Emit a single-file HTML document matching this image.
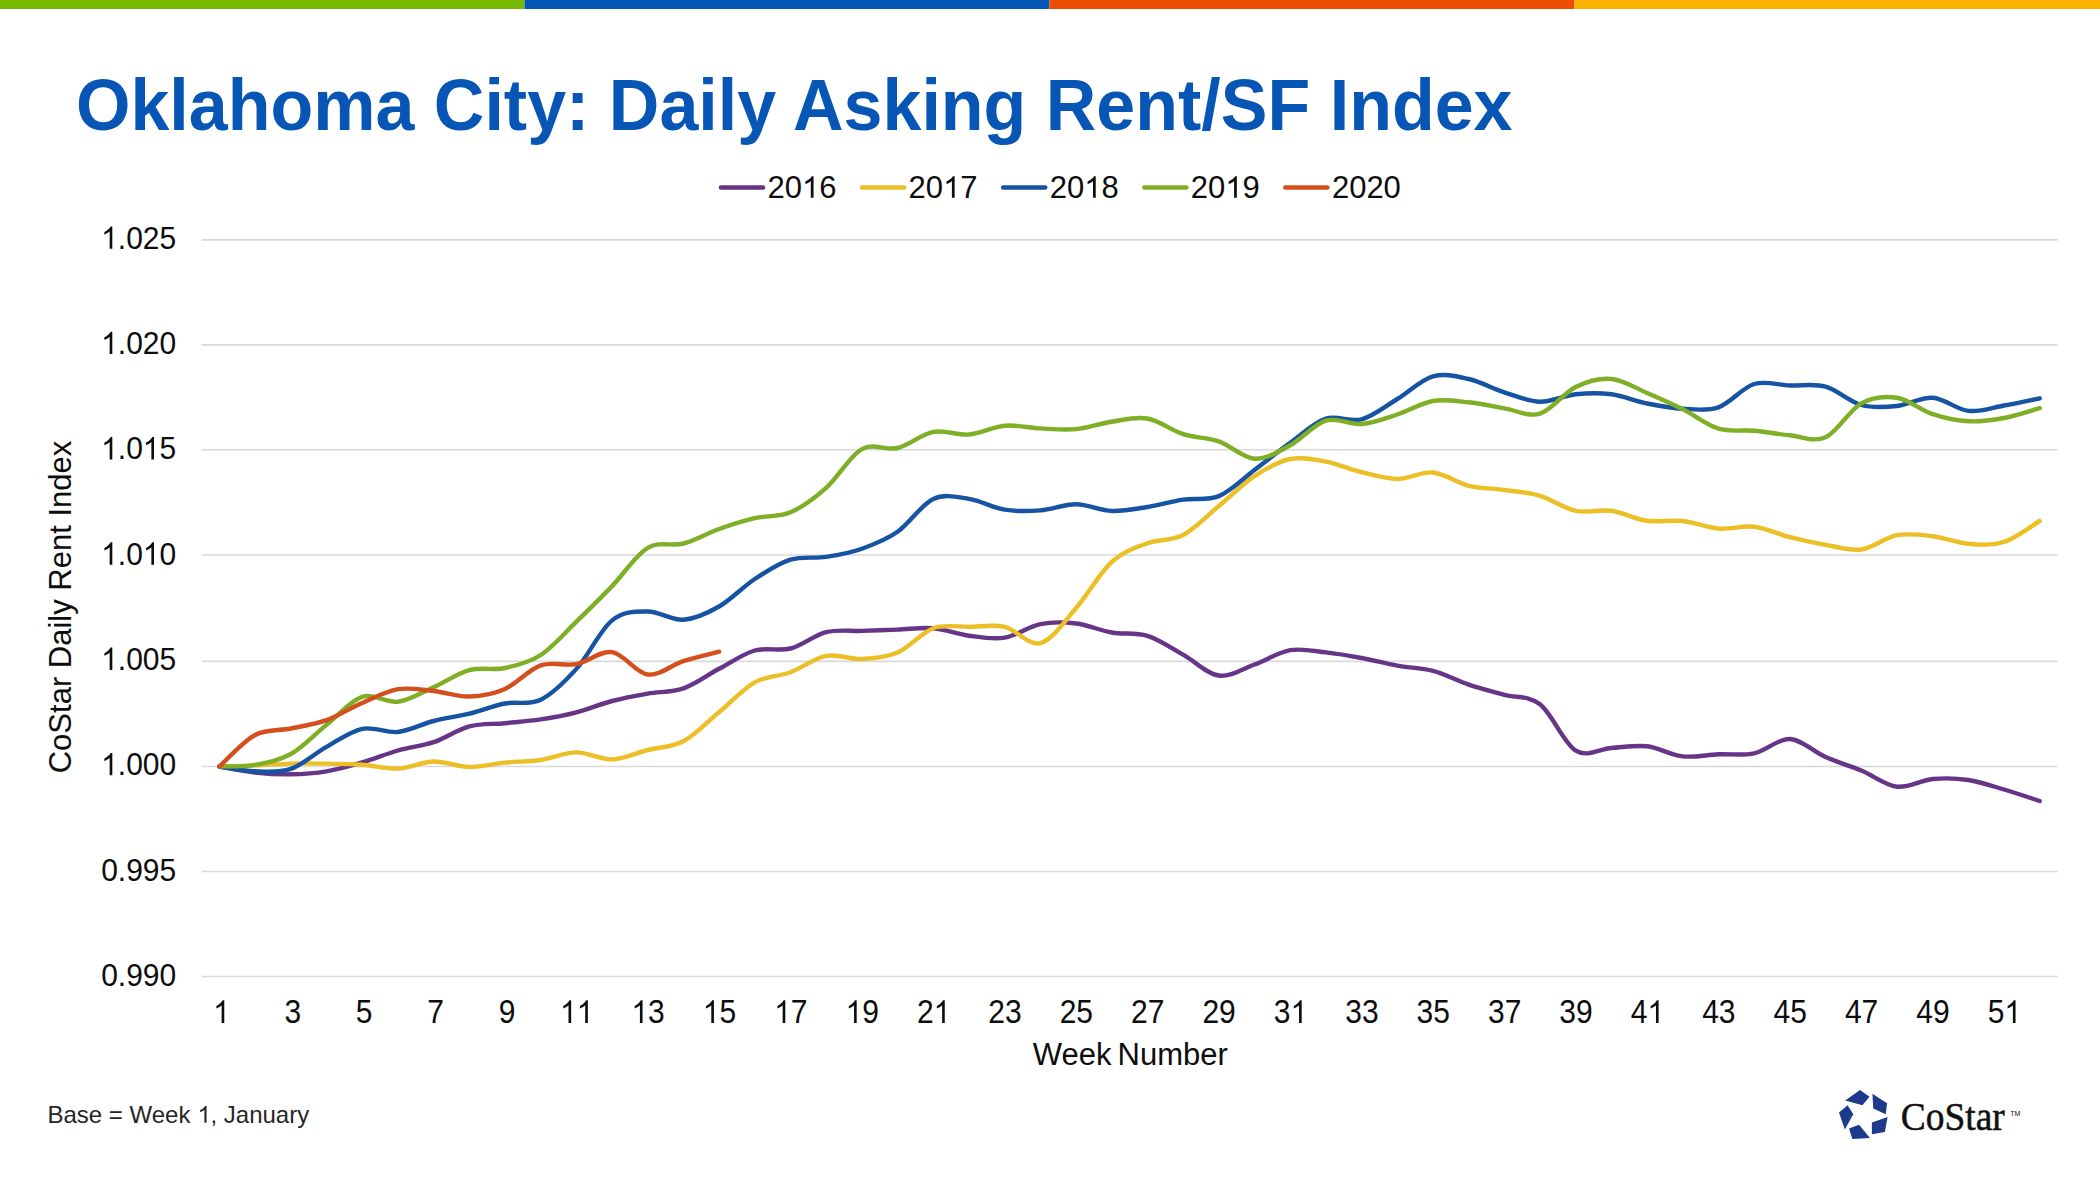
<!DOCTYPE html>
<html><head><meta charset="utf-8"><title>Oklahoma City: Daily Asking Rent/SF Index</title>
<style>
html,body{margin:0;padding:0;background:#fff;}
body{width:2100px;height:1181px;overflow:hidden;position:relative;}
svg{position:absolute;left:0;top:0;display:block;}
text{font-family:"Liberation Sans",sans-serif;}
.ax{font-size:30px;}
.lg{font-size:31px;}
.at{font-size:31px;}
.ti{font-size:70px;font-weight:bold;fill:#0756b5;}
.ft{font-size:24px;}
.lo{font-family:"Liberation Serif",serif;font-size:38px;fill:#111;stroke:#111;stroke-width:0.5px;}
.tm{font-size:7px;fill:#111;}
</style></head>
<body>
<svg width="2100" height="1181" viewBox="0 0 2100 1181">
<rect x="0" y="0" width="524.5" height="9" fill="#76b900"/>
<rect x="524.5" y="0" width="525" height="9" fill="#0657b5"/>
<rect x="1049.5" y="0" width="525" height="9" fill="#ef4e02"/>
<rect x="1574.5" y="0" width="526" height="9" fill="#fdb302"/>
<line x1="201.6" y1="239.9" x2="2057.6" y2="239.9" stroke="#d9d9d9" stroke-width="1.6"/>
<line x1="201.6" y1="344.9" x2="2057.6" y2="344.9" stroke="#d9d9d9" stroke-width="1.6"/>
<line x1="201.6" y1="449.8" x2="2057.6" y2="449.8" stroke="#d9d9d9" stroke-width="1.6"/>
<line x1="201.6" y1="555.0" x2="2057.6" y2="555.0" stroke="#d9d9d9" stroke-width="1.6"/>
<line x1="201.6" y1="661.4" x2="2057.6" y2="661.4" stroke="#d9d9d9" stroke-width="1.6"/>
<line x1="201.6" y1="766.5" x2="2057.6" y2="766.5" stroke="#d9d9d9" stroke-width="1.6"/>
<line x1="201.6" y1="871.5" x2="2057.6" y2="871.5" stroke="#d9d9d9" stroke-width="1.6"/>
<line x1="201.6" y1="976.5" x2="2057.6" y2="976.5" stroke="#d9d9d9" stroke-width="1.6"/>
<text transform="translate(101.13 248.80) scale(1 1.070)" class="ax" fill="#0d0d0d"> .025</text>
<path transform="translate(101.13 248.80) scale(0.01465 -0.01567)" d="M763 0H583V1115Q518 1055 430 1001Q330 941 223 904V1073Q376 1143 487 1240Q600 1338 647 1430H763Z" fill="#0d0d0d"/>
<text transform="translate(101.13 354.10) scale(1 1.070)" class="ax" fill="#0d0d0d"> .020</text>
<path transform="translate(101.13 354.10) scale(0.01465 -0.01567)" d="M763 0H583V1115Q518 1055 430 1001Q330 941 223 904V1073Q376 1143 487 1240Q600 1338 647 1430H763Z" fill="#0d0d0d"/>
<text transform="translate(101.13 459.40) scale(1 1.070)" class="ax" fill="#0d0d0d"> .0 5</text>
<path transform="translate(101.13 459.40) scale(0.01465 -0.01567)" d="M763 0H583V1115Q518 1055 430 1001Q330 941 223 904V1073Q376 1143 487 1240Q600 1338 647 1430H763Z" fill="#0d0d0d"/>
<path transform="translate(142.83 459.40) scale(0.01465 -0.01567)" d="M763 0H583V1115Q518 1055 430 1001Q330 941 223 904V1073Q376 1143 487 1240Q600 1338 647 1430H763Z" fill="#0d0d0d"/>
<text transform="translate(101.13 564.70) scale(1 1.070)" class="ax" fill="#0d0d0d"> .0 0</text>
<path transform="translate(101.13 564.70) scale(0.01465 -0.01567)" d="M763 0H583V1115Q518 1055 430 1001Q330 941 223 904V1073Q376 1143 487 1240Q600 1338 647 1430H763Z" fill="#0d0d0d"/>
<path transform="translate(142.83 564.70) scale(0.01465 -0.01567)" d="M763 0H583V1115Q518 1055 430 1001Q330 941 223 904V1073Q376 1143 487 1240Q600 1338 647 1430H763Z" fill="#0d0d0d"/>
<text transform="translate(101.13 670.00) scale(1 1.070)" class="ax" fill="#0d0d0d"> .005</text>
<path transform="translate(101.13 670.00) scale(0.01465 -0.01567)" d="M763 0H583V1115Q518 1055 430 1001Q330 941 223 904V1073Q376 1143 487 1240Q600 1338 647 1430H763Z" fill="#0d0d0d"/>
<text transform="translate(101.13 775.30) scale(1 1.070)" class="ax" fill="#0d0d0d"> .000</text>
<path transform="translate(101.13 775.30) scale(0.01465 -0.01567)" d="M763 0H583V1115Q518 1055 430 1001Q330 941 223 904V1073Q376 1143 487 1240Q600 1338 647 1430H763Z" fill="#0d0d0d"/>
<text transform="translate(101.13 880.60) scale(1 1.070)" class="ax" fill="#0d0d0d">0.995</text>
<text transform="translate(101.13 985.90) scale(1 1.070)" class="ax" fill="#0d0d0d">0.990</text>
<text transform="translate(213.10 1022.90) scale(1 1.080)" class="ax" fill="#0d0d0d"> </text>
<path transform="translate(213.10 1022.90) scale(0.01465 -0.01582)" d="M763 0H583V1115Q518 1055 430 1001Q330 941 223 904V1073Q376 1143 487 1240Q600 1338 647 1430H763Z" fill="#0d0d0d"/>
<text transform="translate(284.49 1022.90) scale(1 1.080)" class="ax" fill="#0d0d0d">3</text>
<text transform="translate(355.87 1022.90) scale(1 1.080)" class="ax" fill="#0d0d0d">5</text>
<text transform="translate(427.26 1022.90) scale(1 1.080)" class="ax" fill="#0d0d0d">7</text>
<text transform="translate(498.64 1022.90) scale(1 1.080)" class="ax" fill="#0d0d0d">9</text>
<text transform="translate(559.98 1022.90) scale(1 1.080)" class="ax" fill="#0d0d0d">  </text>
<path transform="translate(559.98 1022.90) scale(0.01465 -0.01582)" d="M763 0H583V1115Q518 1055 430 1001Q330 941 223 904V1073Q376 1143 487 1240Q600 1338 647 1430H763Z" fill="#0d0d0d"/>
<path transform="translate(576.67 1022.90) scale(0.01465 -0.01582)" d="M763 0H583V1115Q518 1055 430 1001Q330 941 223 904V1073Q376 1143 487 1240Q600 1338 647 1430H763Z" fill="#0d0d0d"/>
<text transform="translate(631.37 1022.90) scale(1 1.080)" class="ax" fill="#0d0d0d"> 3</text>
<path transform="translate(631.37 1022.90) scale(0.01465 -0.01582)" d="M763 0H583V1115Q518 1055 430 1001Q330 941 223 904V1073Q376 1143 487 1240Q600 1338 647 1430H763Z" fill="#0d0d0d"/>
<text transform="translate(702.75 1022.90) scale(1 1.080)" class="ax" fill="#0d0d0d"> 5</text>
<path transform="translate(702.75 1022.90) scale(0.01465 -0.01582)" d="M763 0H583V1115Q518 1055 430 1001Q330 941 223 904V1073Q376 1143 487 1240Q600 1338 647 1430H763Z" fill="#0d0d0d"/>
<text transform="translate(774.13 1022.90) scale(1 1.080)" class="ax" fill="#0d0d0d"> 7</text>
<path transform="translate(774.13 1022.90) scale(0.01465 -0.01582)" d="M763 0H583V1115Q518 1055 430 1001Q330 941 223 904V1073Q376 1143 487 1240Q600 1338 647 1430H763Z" fill="#0d0d0d"/>
<text transform="translate(845.52 1022.90) scale(1 1.080)" class="ax" fill="#0d0d0d"> 9</text>
<path transform="translate(845.52 1022.90) scale(0.01465 -0.01582)" d="M763 0H583V1115Q518 1055 430 1001Q330 941 223 904V1073Q376 1143 487 1240Q600 1338 647 1430H763Z" fill="#0d0d0d"/>
<text transform="translate(916.90 1022.90) scale(1 1.080)" class="ax" fill="#0d0d0d">2 </text>
<path transform="translate(933.59 1022.90) scale(0.01465 -0.01582)" d="M763 0H583V1115Q518 1055 430 1001Q330 941 223 904V1073Q376 1143 487 1240Q600 1338 647 1430H763Z" fill="#0d0d0d"/>
<text transform="translate(988.29 1022.90) scale(1 1.080)" class="ax" fill="#0d0d0d">23</text>
<text transform="translate(1059.67 1022.90) scale(1 1.080)" class="ax" fill="#0d0d0d">25</text>
<text transform="translate(1131.05 1022.90) scale(1 1.080)" class="ax" fill="#0d0d0d">27</text>
<text transform="translate(1202.44 1022.90) scale(1 1.080)" class="ax" fill="#0d0d0d">29</text>
<text transform="translate(1273.82 1022.90) scale(1 1.080)" class="ax" fill="#0d0d0d">3 </text>
<path transform="translate(1290.51 1022.90) scale(0.01465 -0.01582)" d="M763 0H583V1115Q518 1055 430 1001Q330 941 223 904V1073Q376 1143 487 1240Q600 1338 647 1430H763Z" fill="#0d0d0d"/>
<text transform="translate(1345.21 1022.90) scale(1 1.080)" class="ax" fill="#0d0d0d">33</text>
<text transform="translate(1416.59 1022.90) scale(1 1.080)" class="ax" fill="#0d0d0d">35</text>
<text transform="translate(1487.97 1022.90) scale(1 1.080)" class="ax" fill="#0d0d0d">37</text>
<text transform="translate(1559.36 1022.90) scale(1 1.080)" class="ax" fill="#0d0d0d">39</text>
<text transform="translate(1630.74 1022.90) scale(1 1.080)" class="ax" fill="#0d0d0d">4 </text>
<path transform="translate(1647.43 1022.90) scale(0.01465 -0.01582)" d="M763 0H583V1115Q518 1055 430 1001Q330 941 223 904V1073Q376 1143 487 1240Q600 1338 647 1430H763Z" fill="#0d0d0d"/>
<text transform="translate(1702.13 1022.90) scale(1 1.080)" class="ax" fill="#0d0d0d">43</text>
<text transform="translate(1773.51 1022.90) scale(1 1.080)" class="ax" fill="#0d0d0d">45</text>
<text transform="translate(1844.89 1022.90) scale(1 1.080)" class="ax" fill="#0d0d0d">47</text>
<text transform="translate(1916.28 1022.90) scale(1 1.080)" class="ax" fill="#0d0d0d">49</text>
<text transform="translate(1987.66 1022.90) scale(1 1.080)" class="ax" fill="#0d0d0d">5 </text>
<path transform="translate(2004.35 1022.90) scale(0.01465 -0.01582)" d="M763 0H583V1115Q518 1055 430 1001Q330 941 223 904V1073Q376 1143 487 1240Q600 1338 647 1430H763Z" fill="#0d0d0d"/>
<path d="M219.4 766.5 C225.4 767.5 243.2 771.2 255.1 772.5 C267.0 773.8 278.9 774.5 290.8 774.3 C302.7 774.1 314.6 773.3 326.5 771.3 C338.4 769.3 350.3 765.9 362.2 762.4 C374.1 758.9 386.0 753.9 397.9 750.5 C409.8 747.1 421.7 746.2 433.6 742.2 C445.5 738.2 457.4 729.6 469.3 726.4 C481.2 723.2 493.1 724.4 505.0 723.2 C516.9 722.0 528.8 721.2 540.7 719.4 C552.6 717.6 564.5 715.5 576.4 712.4 C588.3 709.3 600.2 704.1 612.1 701.0 C624.0 697.9 635.9 695.7 647.8 693.6 C659.6 691.5 671.5 692.5 683.4 688.4 C695.3 684.3 707.2 675.1 719.1 668.8 C731.0 662.5 742.9 653.9 754.8 650.5 C766.7 647.1 778.6 651.5 790.5 648.5 C802.4 645.5 814.3 635.1 826.2 632.2 C838.1 629.3 850.0 631.3 861.9 630.9 C873.8 630.5 885.7 630.0 897.6 629.6 C909.5 629.2 921.4 627.2 933.3 628.2 C945.2 629.2 957.1 634.1 969.0 635.7 C980.9 637.3 992.8 639.6 1004.7 637.7 C1016.6 635.8 1028.5 626.5 1040.4 624.1 C1052.3 621.7 1064.2 622.1 1076.1 623.5 C1088.0 624.9 1099.8 630.4 1111.7 632.5 C1123.6 634.6 1135.5 632.2 1147.4 635.9 C1159.3 639.6 1171.2 648.0 1183.1 654.6 C1195.0 661.2 1206.9 673.9 1218.8 675.5 C1230.7 677.1 1242.6 668.7 1254.5 664.5 C1266.4 660.3 1278.3 652.2 1290.2 650.2 C1302.1 648.2 1314.0 651.1 1325.9 652.4 C1337.8 653.7 1349.7 655.8 1361.6 658.0 C1373.5 660.2 1385.4 663.6 1397.3 665.7 C1409.2 667.9 1421.1 667.8 1433.0 670.9 C1444.9 674.0 1456.8 680.6 1468.7 684.6 C1480.6 688.6 1492.5 691.6 1504.4 694.9 C1516.3 698.2 1528.2 695.0 1540.0 704.3 C1551.9 713.6 1563.8 743.3 1575.7 750.6 C1587.6 757.9 1599.5 748.7 1611.4 748.0 C1623.3 747.3 1635.2 744.9 1647.1 746.3 C1659.0 747.7 1670.9 755.1 1682.8 756.4 C1694.7 757.7 1706.6 754.8 1718.5 754.3 C1730.4 753.8 1742.3 755.8 1754.2 753.3 C1766.1 750.8 1778.0 738.4 1789.9 739.0 C1801.8 739.6 1813.7 751.9 1825.6 757.1 C1837.5 762.4 1849.4 765.6 1861.3 770.5 C1873.2 775.4 1885.1 785.3 1897.0 786.7 C1908.9 788.1 1920.8 780.1 1932.7 779.0 C1944.6 777.9 1956.5 778.2 1968.4 780.0 C1980.3 781.8 1992.1 786.0 2004.0 789.5 C2015.9 793.0 2033.8 799.1 2039.7 801.0" fill="none" stroke="#663587" stroke-width="4.4" stroke-linecap="round" stroke-linejoin="round"/>
<path d="M219.4 766.5 C225.4 766.3 243.2 765.9 255.1 765.4 C267.0 764.9 278.9 763.9 290.8 763.6 C302.7 763.3 314.6 763.4 326.5 763.6 C338.4 763.8 350.3 764.0 362.2 764.8 C374.1 765.6 386.0 769.1 397.9 768.6 C409.8 768.1 421.7 761.8 433.6 761.5 C445.5 761.2 457.4 766.8 469.3 767.0 C481.2 767.2 493.1 763.8 505.0 762.6 C516.9 761.4 528.8 761.7 540.7 760.0 C552.6 758.3 564.5 752.5 576.4 752.4 C588.3 752.3 600.2 759.8 612.1 759.4 C624.0 759.0 635.9 753.0 647.8 750.0 C659.6 747.0 671.5 747.6 683.4 741.3 C695.3 735.0 707.2 721.9 719.1 712.1 C731.0 702.3 742.9 688.9 754.8 682.3 C766.7 675.6 778.6 676.6 790.5 672.2 C802.4 667.8 814.3 658.1 826.2 655.9 C838.1 653.7 850.0 659.5 861.9 659.0 C873.8 658.5 885.7 657.7 897.6 652.6 C909.5 647.5 921.4 632.5 933.3 628.2 C945.2 623.9 957.1 627.1 969.0 626.9 C980.9 626.7 992.8 624.2 1004.7 626.9 C1016.6 629.6 1028.5 646.2 1040.4 643.1 C1052.3 640.0 1064.2 621.5 1076.1 608.0 C1088.0 594.5 1099.8 572.8 1111.7 562.0 C1123.6 551.2 1135.5 547.7 1147.4 543.2 C1159.3 538.7 1171.2 541.2 1183.1 535.0 C1195.0 528.8 1206.9 515.8 1218.8 506.0 C1230.7 496.2 1242.6 484.0 1254.5 476.2 C1266.4 468.4 1278.3 461.4 1290.2 459.0 C1302.1 456.6 1314.0 459.4 1325.9 461.6 C1337.8 463.8 1349.7 469.3 1361.6 472.2 C1373.5 475.1 1385.4 478.9 1397.3 479.0 C1409.2 479.1 1421.1 471.4 1433.0 472.5 C1444.9 473.6 1456.8 482.9 1468.7 485.8 C1480.6 488.7 1492.5 488.3 1504.4 490.0 C1516.3 491.7 1528.2 492.3 1540.0 495.8 C1551.9 499.3 1563.8 508.3 1575.7 510.8 C1587.6 513.3 1599.5 509.1 1611.4 510.8 C1623.3 512.5 1635.2 519.1 1647.1 520.8 C1659.0 522.5 1670.9 519.7 1682.8 521.0 C1694.7 522.3 1706.6 527.6 1718.5 528.6 C1730.4 529.6 1742.3 525.3 1754.2 526.7 C1766.1 528.1 1778.0 534.1 1789.9 537.1 C1801.8 540.1 1813.7 542.7 1825.6 544.8 C1837.5 546.9 1849.4 551.1 1861.3 549.5 C1873.2 547.9 1885.1 537.4 1897.0 535.2 C1908.9 533.0 1920.8 534.8 1932.7 536.2 C1944.6 537.6 1956.5 542.8 1968.4 543.8 C1980.3 544.8 1992.1 545.7 2004.0 541.9 C2015.9 538.1 2033.8 524.5 2039.7 521.0" fill="none" stroke="#ebbf25" stroke-width="4.4" stroke-linecap="round" stroke-linejoin="round"/>
<path d="M219.4 766.5 C225.4 767.3 243.2 770.9 255.1 771.3 C267.0 771.7 278.9 773.0 290.8 768.9 C302.7 764.8 314.6 753.6 326.5 746.9 C338.4 740.2 350.3 731.3 362.2 728.8 C374.1 726.3 386.0 733.3 397.9 732.0 C409.8 730.7 421.7 724.0 433.6 721.0 C445.5 718.0 457.4 716.6 469.3 713.7 C481.2 710.8 493.1 705.8 505.0 703.5 C516.9 701.2 528.8 705.5 540.7 699.7 C552.6 693.9 564.5 682.1 576.4 668.9 C588.3 655.7 600.2 630.0 612.1 620.4 C624.0 610.8 635.9 611.6 647.8 611.5 C659.6 611.4 671.5 620.5 683.4 619.7 C695.3 618.9 707.2 613.3 719.1 606.5 C731.0 599.7 742.9 586.8 754.8 579.0 C766.7 571.2 778.6 563.4 790.5 559.7 C802.4 556.0 814.3 558.7 826.2 556.9 C838.1 555.1 850.0 552.9 861.9 548.7 C873.8 544.5 885.7 540.1 897.6 531.8 C909.5 523.5 921.4 504.5 933.3 499.0 C945.2 493.5 957.1 497.1 969.0 498.9 C980.9 500.7 992.8 507.8 1004.7 509.7 C1016.6 511.6 1028.5 511.3 1040.4 510.4 C1052.3 509.5 1064.2 504.2 1076.1 504.3 C1088.0 504.4 1099.8 510.6 1111.7 511.0 C1123.6 511.4 1135.5 508.9 1147.4 507.0 C1159.3 505.1 1171.2 501.4 1183.1 499.6 C1195.0 497.8 1206.9 501.0 1218.8 496.1 C1230.7 491.2 1242.6 478.9 1254.5 470.0 C1266.4 461.1 1278.3 451.2 1290.2 442.7 C1302.1 434.1 1314.0 422.6 1325.9 418.7 C1337.8 414.8 1349.7 422.6 1361.6 419.3 C1373.5 416.0 1385.4 406.2 1397.3 399.0 C1409.2 391.8 1421.1 379.6 1433.0 376.3 C1444.9 373.0 1456.8 376.3 1468.7 379.0 C1480.6 381.7 1492.5 388.5 1504.4 392.3 C1516.3 396.1 1528.2 401.4 1540.0 401.7 C1551.9 402.0 1563.8 395.5 1575.7 394.3 C1587.6 393.1 1599.5 392.8 1611.4 394.3 C1623.3 395.8 1635.2 401.1 1647.1 403.5 C1659.0 405.9 1670.9 408.1 1682.8 408.7 C1694.7 409.3 1706.6 411.4 1718.5 407.3 C1730.4 403.2 1742.3 387.6 1754.2 384.0 C1766.1 380.4 1778.0 385.1 1789.9 385.5 C1801.8 385.9 1813.7 383.4 1825.6 386.7 C1837.5 389.9 1849.4 401.8 1861.3 405.0 C1873.2 408.2 1885.1 407.2 1897.0 406.0 C1908.9 404.8 1920.8 397.0 1932.7 397.8 C1944.6 398.6 1956.5 409.6 1968.4 410.9 C1980.3 412.2 1992.1 407.6 2004.0 405.5 C2015.9 403.4 2033.8 399.5 2039.7 398.3" fill="none" stroke="#1654a3" stroke-width="4.4" stroke-linecap="round" stroke-linejoin="round"/>
<path d="M219.4 766.5 C225.4 766.2 243.2 766.9 255.1 764.8 C267.0 762.7 278.9 760.6 290.8 754.0 C302.7 747.4 314.6 734.4 326.5 724.9 C338.4 715.4 350.3 700.8 362.2 696.9 C374.1 693.0 386.0 703.3 397.9 701.7 C409.8 700.1 421.7 692.5 433.6 687.2 C445.5 682.0 457.4 673.4 469.3 670.2 C481.2 667.0 493.1 670.5 505.0 668.0 C516.9 665.5 528.8 662.7 540.7 655.0 C552.6 647.3 564.5 633.1 576.4 621.6 C588.3 610.1 600.2 598.4 612.1 586.1 C624.0 573.8 635.9 555.0 647.8 547.9 C659.6 540.8 671.5 546.6 683.4 543.5 C695.3 540.4 707.2 533.2 719.1 529.0 C731.0 524.8 742.9 521.0 754.8 518.2 C766.7 515.4 778.6 517.4 790.5 512.3 C802.4 507.2 814.3 498.3 826.2 487.8 C838.1 477.3 850.0 455.7 861.9 449.1 C873.8 442.5 885.7 450.9 897.6 448.0 C909.5 445.1 921.4 434.1 933.3 431.9 C945.2 429.6 957.1 435.5 969.0 434.5 C980.9 433.5 992.8 426.7 1004.7 425.7 C1016.6 424.7 1028.5 427.8 1040.4 428.4 C1052.3 429.0 1064.2 430.2 1076.1 429.1 C1088.0 428.0 1099.8 423.5 1111.7 421.7 C1123.6 419.9 1135.5 416.4 1147.4 418.5 C1159.3 420.6 1171.2 430.4 1183.1 434.2 C1195.0 438.0 1206.9 437.2 1218.8 441.3 C1230.7 445.4 1242.6 458.0 1254.5 458.7 C1266.4 459.4 1278.3 451.6 1290.2 445.3 C1302.1 439.0 1314.0 424.2 1325.9 420.7 C1337.8 417.1 1349.7 425.0 1361.6 424.0 C1373.5 423.0 1385.4 418.3 1397.3 414.5 C1409.2 410.7 1421.1 403.0 1433.0 401.0 C1444.9 399.0 1456.8 401.1 1468.7 402.3 C1480.6 403.5 1492.5 406.4 1504.4 408.3 C1516.3 410.2 1528.2 417.2 1540.0 413.7 C1551.9 410.1 1563.8 392.8 1575.7 387.0 C1587.6 381.2 1599.5 378.0 1611.4 379.0 C1623.3 380.0 1635.2 387.9 1647.1 393.0 C1659.0 398.1 1670.9 403.4 1682.8 409.3 C1694.7 415.2 1706.6 425.1 1718.5 428.7 C1730.4 432.3 1742.3 429.6 1754.2 430.7 C1766.1 431.8 1778.0 434.2 1789.9 435.3 C1801.8 436.4 1813.7 442.6 1825.6 437.3 C1837.5 432.0 1849.4 409.9 1861.3 403.3 C1873.2 396.7 1885.1 396.0 1897.0 397.8 C1908.9 399.6 1920.8 410.3 1932.7 414.2 C1944.6 418.1 1956.5 420.7 1968.4 421.3 C1980.3 421.9 1992.1 420.2 2004.0 418.0 C2015.9 415.8 2033.8 409.8 2039.7 408.2" fill="none" stroke="#7eaf26" stroke-width="4.4" stroke-linecap="round" stroke-linejoin="round"/>
<path d="M219.4 766.5 C225.4 761.2 243.2 741.3 255.1 735.0 C267.0 728.7 278.9 731.0 290.8 728.5 C302.7 726.0 314.6 724.4 326.5 720.1 C338.4 715.8 350.3 708.0 362.2 702.9 C374.1 697.8 386.0 691.2 397.9 689.2 C409.8 687.2 421.7 689.8 433.6 691.0 C445.5 692.2 457.4 696.9 469.3 696.5 C481.2 696.1 493.1 694.1 505.0 688.9 C516.9 683.7 528.8 669.5 540.7 665.4 C552.6 661.3 564.5 666.3 576.4 664.1 C588.3 661.9 600.2 650.4 612.1 652.1 C624.0 653.8 635.9 673.0 647.8 674.5 C659.6 676.0 671.5 665.0 683.4 661.2 C695.3 657.4 713.2 653.3 719.1 651.7" fill="none" stroke="#d54f1d" stroke-width="4.4" stroke-linecap="round" stroke-linejoin="round"/>
<line x1="721.0" y1="187.5" x2="763.0" y2="187.5" stroke="#663587" stroke-width="4.6" stroke-linecap="round"/>
<text transform="translate(767.50 197.80)" class="lg" fill="#0d0d0d">20 6</text>
<path transform="translate(801.98 197.80) scale(0.01514 -0.01514)" d="M763 0H583V1115Q518 1055 430 1001Q330 941 223 904V1073Q376 1143 487 1240Q600 1338 647 1430H763Z" fill="#0d0d0d"/>
<line x1="862.1" y1="187.5" x2="904.1" y2="187.5" stroke="#ebbf25" stroke-width="4.6" stroke-linecap="round"/>
<text transform="translate(908.60 197.80)" class="lg" fill="#0d0d0d">20 7</text>
<path transform="translate(943.08 197.80) scale(0.01514 -0.01514)" d="M763 0H583V1115Q518 1055 430 1001Q330 941 223 904V1073Q376 1143 487 1240Q600 1338 647 1430H763Z" fill="#0d0d0d"/>
<line x1="1003.2" y1="187.5" x2="1045.2" y2="187.5" stroke="#1654a3" stroke-width="4.6" stroke-linecap="round"/>
<text transform="translate(1049.70 197.80)" class="lg" fill="#0d0d0d">20 8</text>
<path transform="translate(1084.18 197.80) scale(0.01514 -0.01514)" d="M763 0H583V1115Q518 1055 430 1001Q330 941 223 904V1073Q376 1143 487 1240Q600 1338 647 1430H763Z" fill="#0d0d0d"/>
<line x1="1144.3" y1="187.5" x2="1186.3" y2="187.5" stroke="#7eaf26" stroke-width="4.6" stroke-linecap="round"/>
<text transform="translate(1190.80 197.80)" class="lg" fill="#0d0d0d">20 9</text>
<path transform="translate(1225.28 197.80) scale(0.01514 -0.01514)" d="M763 0H583V1115Q518 1055 430 1001Q330 941 223 904V1073Q376 1143 487 1240Q600 1338 647 1430H763Z" fill="#0d0d0d"/>
<line x1="1285.4" y1="187.5" x2="1327.4" y2="187.5" stroke="#d54f1d" stroke-width="4.6" stroke-linecap="round"/>
<text transform="translate(1331.90 197.80)" class="lg" fill="#0d0d0d">2020</text>
<text x="1130.3" y="1065.1" class="at" text-anchor="middle" word-spacing="-2.6" fill="#0d0d0d">Week Number</text>
<text transform="translate(71.3 607) rotate(-90)" class="at" text-anchor="middle" fill="#0d0d0d">CoStar Daily Rent Index</text>
<text transform="translate(76 129.5) scale(1 1.025)" class="ti">Oklahoma City: Daily Asking Rent/SF Index</text>
<text transform="translate(47.50 1122.70)" class="ft" fill="#262626">Base = Week  , January</text>
<path transform="translate(197.57 1122.70) scale(0.01172 -0.01172)" d="M763 0H583V1115Q518 1055 430 1001Q330 941 223 904V1073Q376 1143 487 1240Q600 1338 647 1430H763Z" fill="#262626"/>
<g fill="#1e3a8c">
<polygon points="1845.2,1100.5 1860,1090 1869.5,1096.7 1862.4,1105.2"/>
<polygon points="1872.4,1093.8 1887.1,1103.3 1885.7,1114.3 1873.3,1108.6"/>
<polygon points="1871.9,1122.4 1887.6,1117.1 1884.8,1131.9 1871.9,1134.3"/>
<polygon points="1849,1128.6 1859,1124.8 1870,1138.1 1852.4,1139"/>
<polygon points="1839,1112.4 1847.6,1105.2 1853.3,1114.3 1844.8,1129.5"/>
</g>
<text transform="translate(1900.8 1130.2) scale(0.985 1.065)" class="lo">CoStar</text>
<text x="2010.2" y="1116.3" class="tm">TM</text>
</svg>
</body></html>
